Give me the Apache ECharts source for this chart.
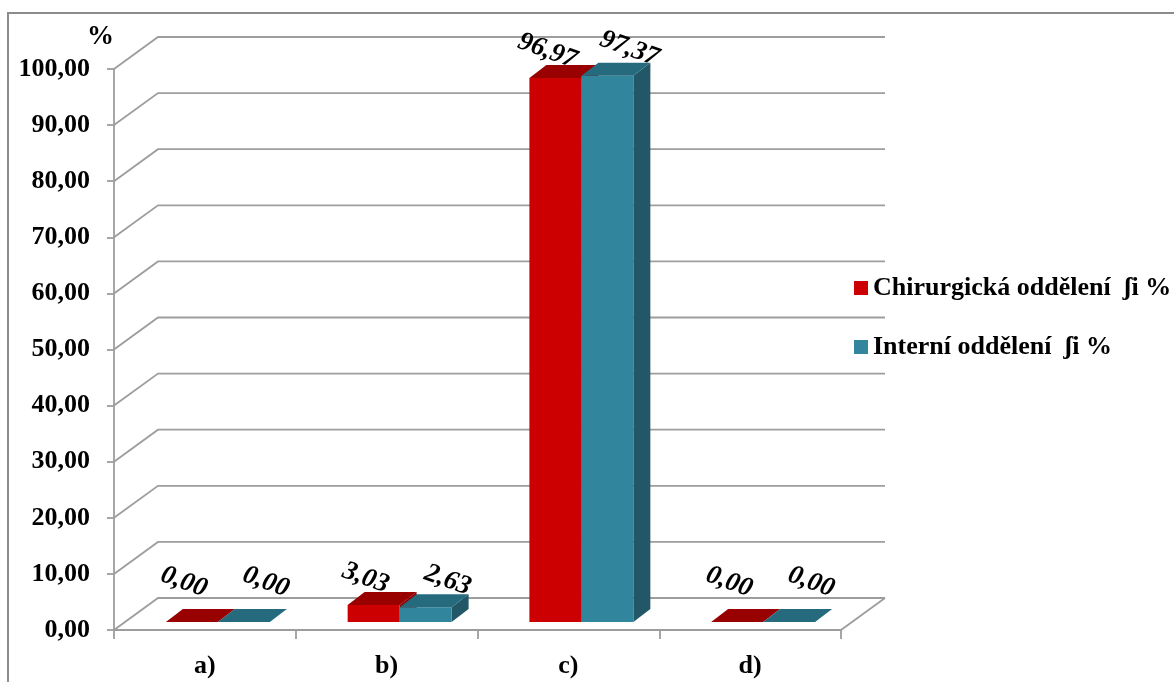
<!DOCTYPE html>
<html>
<head>
<meta charset="utf-8">
<script src="https://cdn.jsdelivr.net/npm/echarts@6/dist/echarts.min.js"></script>
<style>
  html, body { margin: 0; padding: 0; background: #ffffff; }
  #chart { width: 1174px; height: 682px; }
</style>
</head>
<body>
<div id="chart"></div>
<script>
// Categories and percentages per department
const categories = ['a)', 'b)', 'c)', 'd)'];
const surgical = [0.00, 3.03, 96.97, 0.00];
const internal = [0.00, 2.63, 97.37, 0.00];
const seriesNames = ['Chirurgická oddělení  ʃi %', 'Interní oddělení  ʃi %'];
const yTicks = [0, 10, 20, 30, 40, 50, 60, 70, 80, 90, 100];

// Look and geometry of the pseudo-3D frame
const FONT = '"Liberation Serif", "Times New Roman", serif';
const TEXT_SIZE = 26;
const GRID_COLOR = '#9d9d9d';
const WALL_DX = 44, WALL_DY = -32;      // depth of floor / side wall
const BAR_BASE_DY = -8;                 // bars stand slightly behind the floor's front edge
const BAR_DX = 17, BAR_DY = -13;        // depth of each bar
const BAR_RATIO = 0.286;                // bar width as a share of the category band
const PAIR_SHIFT = 13;                  // bar pair is offset right of the band centre
const COLORS = [
  { front: '#cc0000', top: '#990000', side: '#8a0000' },
  { front: '#31859c', top: '#266b7d', side: '#215766' }
];
const LABEL_DX = [-8, 22];
const LABEL_MIN_CLEARANCE = 40;         // value labels keep this distance above the floor
const LABEL_ROT = -20 * Math.PI / 180;

const fmt = v => v.toFixed(2).replace('.', ',');

function renderWall(params, api) {
  const cs = params.coordSys;
  const v = api.value(1);
  const y = api.coord([0, v])[1];
  const xl = cs.x, xr = cs.x + cs.width;
  const style = { stroke: GRID_COLOR, lineWidth: 1.8, fill: null };
  const children = [{
    type: 'polyline',
    shape: { points: [[xl, y], [xl + WALL_DX, y + WALL_DY], [xr + WALL_DX, y + WALL_DY]] },
    style: style
  }];
  if (v === 0) {
    children.push({
      type: 'line',
      shape: { x1: xr, y1: y, x2: xr + WALL_DX, y2: y + WALL_DY },
      style: style
    });
  }
  return { type: 'group', children: children };
}

function makeBarRenderer(idx) {
  const c = COLORS[idx];
  return function (params, api) {
    const cat = api.value(0), v = api.value(1);
    const band = api.size([1, 0])[0];
    const base = api.coord([cat, 0]);
    const yv = api.coord([cat, v])[1];
    const w = band * BAR_RATIO;
    const x0 = base[0] + PAIR_SHIFT - w + idx * w;
    const x1 = x0 + w;
    const yb = base[1] + BAR_BASE_DY;
    const yt = yb - (base[1] - yv);
    const children = [];
    if (yb - yt > 0.5) {
      children.push({
        type: 'polygon',
        shape: { points: [[x1, yt], [x1 + BAR_DX, yt + BAR_DY], [x1 + BAR_DX, yb + BAR_DY], [x1, yb]] },
        style: { fill: c.side }
      });
      children.push({
        type: 'rect',
        shape: { x: x0, y: yt, width: w, height: yb - yt },
        style: { fill: c.front }
      });
    }
    children.push({
      type: 'polygon',
      shape: { points: [[x0, yt], [x0 + BAR_DX, yt + BAR_DY], [x1 + BAR_DX, yt + BAR_DY], [x1, yt]] },
      style: { fill: c.top }
    });
    children.push({
      type: 'text',
      x: (x0 + x1) / 2 + LABEL_DX[idx],
      y: Math.min(yt + BAR_DY - 14, yb - LABEL_MIN_CLEARANCE),
      rotation: LABEL_ROT,
      z2: 10,
      style: {
        text: fmt(v),
        fontFamily: FONT,
        fontSize: 27,
        fontWeight: 'bold',
        fontStyle: 'italic',
        fill: '#000000',
        align: 'center',
        verticalAlign: 'middle'
      }
    });
    return { type: 'group', children: children };
  };
}

const chart = echarts.init(document.getElementById('chart'), null, { renderer: 'canvas' });

chart.setOption({
  backgroundColor: '#ffffff',
  animation: false,
  graphic: [{
    type: 'rect',
    shape: { x: 8, y: 13, width: 1200, height: 720 },
    style: { fill: null, stroke: '#8c8c8c', lineWidth: 2 },
    silent: true,
    z: -10
  }],
  grid: { left: 114, top: 69, width: 727, height: 561, containLabel: false },
  legend: {
    orient: 'vertical',
    left: 849,
    top: 270,
    icon: 'rect',
    itemWidth: 14,
    itemHeight: 14,
    itemGap: 33,
    data: seriesNames,
    textStyle: { fontFamily: FONT, fontWeight: 'bold', fontSize: TEXT_SIZE, color: '#000000' }
  },
  xAxis: {
    type: 'category',
    data: categories,
    axisLine: { show: true, lineStyle: { color: GRID_COLOR, width: 1.8 } },
    axisTick: { show: true, length: 9, interval: 0, lineStyle: { color: GRID_COLOR, width: 1.8 } },
    axisLabel: { margin: 23, fontFamily: FONT, fontWeight: 'bold', fontSize: TEXT_SIZE, color: '#000000' },
    splitLine: { show: false }
  },
  yAxis: {
    type: 'value',
    min: 0,
    max: 100,
    interval: 10,
    name: '%',
    nameLocation: 'end',
    nameGap: 18,
    nameTextStyle: { fontFamily: FONT, fontWeight: 'bold', fontSize: 27, color: '#000000', align: 'right' },
    axisLine: { show: true, lineStyle: { color: GRID_COLOR, width: 1.8 } },
    axisTick: { show: true, length: 7, lineStyle: { color: GRID_COLOR, width: 1.8 } },
    axisLabel: { margin: 24, formatter: v => fmt(v), fontFamily: FONT, fontWeight: 'bold', fontSize: TEXT_SIZE, color: '#000000' },
    splitLine: { show: false }
  },
  series: [
    {
      type: 'custom',
      name: 'walls',
      silent: true,
      z: 1,
      renderItem: renderWall,
      data: yTicks.map(v => [0, v])
    },
    {
      type: 'custom',
      name: seriesNames[0],
      z: 3,
      itemStyle: { color: COLORS[0].front },
      renderItem: makeBarRenderer(0),
      data: surgical.map((v, i) => [i, v])
    },
    {
      type: 'custom',
      name: seriesNames[1],
      z: 4,
      itemStyle: { color: COLORS[1].front },
      renderItem: makeBarRenderer(1),
      data: internal.map((v, i) => [i, v])
    }
  ]
});
</script>
</body>
</html>
